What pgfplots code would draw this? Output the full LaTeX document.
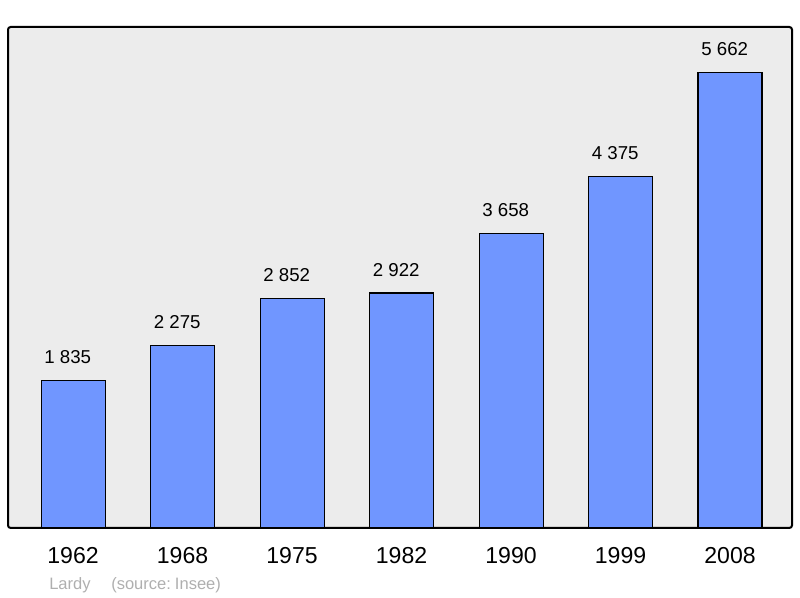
\documentclass[border=0pt]{standalone}
\usepackage{fontspec}
\setmainfont{Liberation Sans}
\usepackage{pgfplots}
\pgfplotsset{compat=1.18}
\definecolor{barblue}{RGB}{112,150,255}
\definecolor{panel}{RGB}{236,236,236}
\definecolor{srcgray}{RGB}{175,175,175}

\begin{document}
\begin{tikzpicture}
  \begin{axis}[
    scale only axis,
    width=588pt, height=375.75pt,
    xmin=-0.594, xmax=6.566,
    ymin=0, ymax=6230,
    ybar, bar width=48pt,
    axis background/.style={fill=panel},
    axis line style={line width=1.5pt, rounded corners=2pt},
    xtick=data,
    xticklabels={1962,1968,1975,1982,1990,1999,2008},
    major tick length=0pt,
    ytick=\empty,
    xticklabel style={font=\fontsize{17.3}{17}\selectfont, anchor=base, yshift=-27pt},
    point meta=explicit symbolic,
    nodes near coords,
    nodes near coords style={font=\fontsize{14}{14}\selectfont, anchor=base, yshift=12.75pt, xshift=-4pt},
  ]
  \addplot[draw=black, line width=0.8pt, fill=barblue] table[meta=label] {
    x y label
    0 1835 {1 835}
    1 2275 {2 275}
    2 2852 {2 852}
    3 2922 {2 922}
    4 3658 {3 658}
    5 4375 {4 375}
    6 5662 {5 662}
  };
  \end{axis}
  \node[anchor=base west, text=srcgray, font=\fontsize{12.4}{13}\selectfont, inner sep=0pt]
    at (30.75pt,-46.5pt) {Lardy\hspace{15.5pt}(source:\hspace{3pt}Insee)};
  \pgfresetboundingbox
  \useasboundingbox (-6pt,-52.5pt) rectangle (594pt,396pt);
\end{tikzpicture}
\end{document}
